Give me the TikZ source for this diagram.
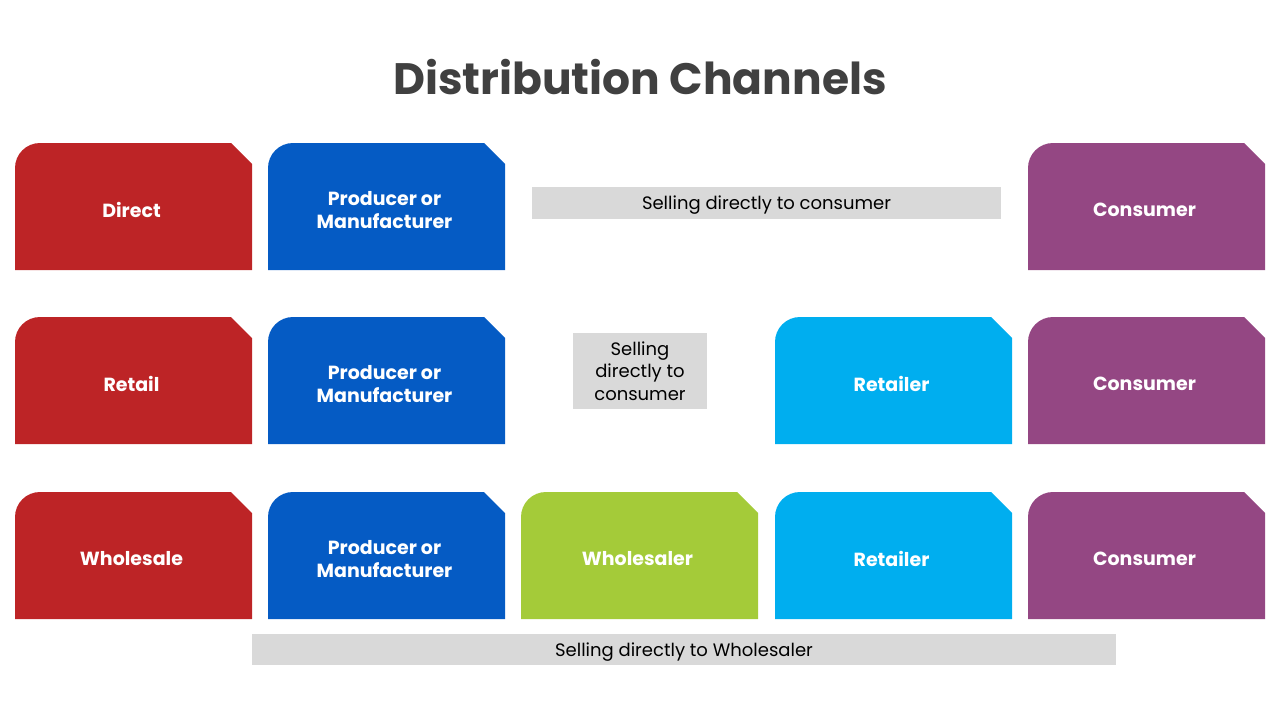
\documentclass[tikz,border=0pt]{standalone}
\usepackage{fontspec}
\setmainfont{Poppins}
\definecolor{chred}{HTML}{BD2426}
\definecolor{chblue}{HTML}{055BC4}
\definecolor{chgreen}{HTML}{A4CB39}
\definecolor{chcyan}{HTML}{00AEEF}
\definecolor{chpurple}{HTML}{944783}
\definecolor{chgray}{HTML}{D9D9D9}
\definecolor{chtitle}{HTML}{404040}
\tikzset{
 boxtext/.style={text=white,font=\fontsize{19}{23}\selectfont\bfseries,align=center},
 notebox/.style={fill=chgray,inner sep=0pt,align=center,font=\fontsize{18}{22.5}\selectfont}
}
% name, left x, top y, colour, text
\newcommand\chbox[5]{%
 \fill[#4] (#2,#3+127)--(#2,#3+25) arc[start angle=180,end angle=270,radius=25]--(#2+216,#3)--(#2+237,#3+21)--(#2+237,#3+127)--cycle;
 \node[boxtext] (#1) at (#2+116.5,#3+67) {#5};
}
\begin{document}
\begin{tikzpicture}[x=1pt,y=-1pt]
 \useasboundingbox (0,0) rectangle (1280,720);
 \node[text=chtitle,font=\fontsize{44}{50}\selectfont\bfseries] (title) at (640,77) {Distribution Channels}; %タイトル
 % 1段目
 \chbox{direct}{15}{143}{chred}{Direct}
 \chbox{prodA}{268}{143}{chblue}{Producer or\\Manufacturer}
 \chbox{consA}{1028}{143}{chpurple}{Consumer}
 \node[notebox,text depth=0pt,minimum width=469pt,minimum height=32pt] (noteA) at (766.5,203) {Selling directly to consumer};
 % 2段目
 \chbox{retail}{15}{317}{chred}{Retail}
 \chbox{prodB}{268}{317}{chblue}{Producer or\\Manufacturer}
 \chbox{retB}{775}{317}{chcyan}{Retailer}
 \chbox{consB}{1028}{317}{chpurple}{Consumer}
 \node[notebox,minimum width=134pt,minimum height=76pt] (noteB) at (640,371) {Selling\\directly to\\consumer};
 % 3段目
 \chbox{wholesale}{15}{492}{chred}{Wholesale}
 \chbox{prodC}{268}{492}{chblue}{Producer or\\Manufacturer}
 \chbox{wsC}{521}{492}{chgreen}{Wholesaler}
 \chbox{retC}{775}{492}{chcyan}{Retailer}
 \chbox{consC}{1028}{492}{chpurple}{Consumer}
 \node[notebox,text depth=0pt,minimum width=864pt,minimum height=31pt] (noteC) at (684,649.5) {Selling directly to Wholesaler};
\end{tikzpicture}
\end{document}
